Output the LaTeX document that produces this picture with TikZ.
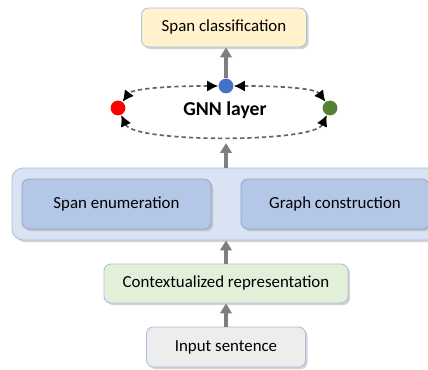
\documentclass[tikz,border=0pt]{standalone}
\usepackage{fontspec}
\setmainfont{Carlito}
\usetikzlibrary{arrows.meta, shadows}
\definecolor{clsfill}{RGB}{255, 242, 204}
\definecolor{ctxfill}{RGB}{226, 240, 217}
\definecolor{inpfill}{RGB}{237, 237, 237}
\definecolor{contfill}{RGB}{218, 227, 243}
\definecolor{partfill}{RGB}{180, 199, 231}
\definecolor{boxline}{RGB}{172, 190, 222}
\definecolor{arrowgray}{RGB}{127, 127, 127}
\definecolor{dashgray}{RGB}{100, 100, 100}
\definecolor{nodeblue}{RGB}{68, 114, 196}
\definecolor{nodegreen}{RGB}{84, 130, 53}

\begin{document}
\begin{tikzpicture}[x=0.025cm, y=0.025cm,
    box/.style={rectangle, rounded corners=5pt, draw=boxline, line width=0.6pt,
                align=center, font=\fontsize{12}{14}\selectfont,
                drop shadow={shadow xshift=1.5pt, shadow yshift=-1.5pt, opacity=0.35}},
    dot/.style={circle, minimum size=0.37cm, inner sep=0pt},
    flow/.style={-{Triangle[length=7pt, width=8pt]}, line width=2.2pt, draw=arrowgray},
    link/.style={dash pattern=on 3pt off 2.2pt, line width=1.2pt, draw=dashgray,
                 {Latex[length=8pt, width=8pt, black]}-{Latex[length=8pt, width=8pt, black]}}]
    \useasboundingbox (0, 0) rectangle (428, 369);

    % Encoder boxes
    \node[box, fill=inpfill, minimum width=3.975cm, minimum height=1cm] (inp) at (226, 22) {Input sentence};
    \node[box, fill=ctxfill, minimum width=6.1cm, minimum height=0.975cm] (ctx) at (226, 85.5) {Contextualized representation};

    % Span and graph block
    \node[box, fill=contfill, rounded corners=8pt, minimum width=11.2cm, minimum height=1.8cm] (cont) at (236, 165) {};
    \node[box, fill=partfill, draw=partfill!85!black, drop shadow={opacity=0}, minimum width=4.725cm, minimum height=1.25cm] (enum) at (116.5, 165) {Span enumeration};
    \node[box, fill=partfill, draw=partfill!85!black, drop shadow={opacity=0}, minimum width=4.7cm, minimum height=1.25cm] (graph) at (335, 165) {Graph construction};

    % GNN layer
    \node[font=\fontsize{14}{16}\selectfont\bfseries] (gnn) at (225, 259) {GNN layer};
    \coordinate (gnnin) at (226, 226);
    \node[dot, fill=nodeblue] (blue) at (226, 283) {};
    \node[dot, fill=red] (red) at (118, 261) {};
    \node[dot, fill=nodegreen] (green) at (330, 261) {};
    \draw[link] (blue) .. controls (165, 283) and (132, 280) .. (red);
    \draw[link] (blue) .. controls (287, 283) and (316, 280) .. (green);
    \draw[link] (red) .. controls (134, 226) and (314, 226) .. (green);

    % Output
    \node[box, fill=clsfill, minimum width=4.125cm, minimum height=0.975cm] (cls) at (224, 341.5) {Span classification};

    % Arrows
    \draw[flow] (inp) -- (ctx);
    \draw[flow] (ctx.north) -- (ctx.north |- cont.south);
    \draw[flow] (cont.north -| gnnin) -- (gnnin);
    \draw[flow] (blue) -- (blue |- cls.south);
\end{tikzpicture}
\end{document}
